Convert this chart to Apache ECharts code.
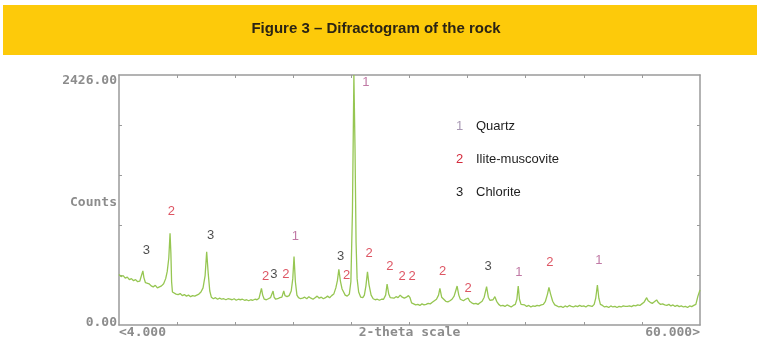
<!DOCTYPE html>
<html>
<head>
<meta charset="utf-8">
<script src="https://cdn.jsdelivr.net/npm/echarts@6/dist/echarts.min.js"></script>
<style>
html,body{margin:0;padding:0;background:#fff;}
#c{width:764px;height:351px;}
</style>
</head>
<body>
<div id="c"></div>
<script>
// ---- data ----
const twoTheta = [
 4.0,4.2,4.4,4.6,4.8,5.0,5.2,5.4,5.6,5.8,6.0,6.15,6.3,6.4,6.55,6.7,6.9,7.1,7.3,7.5,7.7,7.9,8.1,8.3,8.5,8.65,8.8,8.92,9.0,9.07,9.15,9.3,9.5,9.7,9.9,
 10.1,10.3,10.5,10.7,10.9,11.1,11.3,11.5,11.7,11.9,12.1,12.3,12.45,12.6,12.75,12.9,13.1,13.3,13.5,13.7,13.9,14.1,14.3,14.5,14.7,14.9,
 15.1,15.3,15.5,15.7,15.9,16.1,16.3,16.5,16.7,16.9,17.1,17.3,17.5,17.73,17.85,18.0,18.2,18.4,18.6,18.85,18.95,19.1,19.3,19.5,19.7,19.88,
 20.0,20.2,20.4,20.6,20.75,20.87,21.0,21.15,21.3,21.5,21.7,21.9,22.1,22.3,22.5,22.7,22.9,23.1,23.3,23.5,23.7,23.9,24.1,24.3,24.5,24.7,24.9,
 25.05,25.19,25.35,25.5,25.65,25.8,26.0,26.2,26.35,26.5,26.64,26.75,26.85,26.95,27.1,27.3,27.5,27.65,27.8,27.95,28.1,28.3,28.5,28.7,28.9,
 29.1,29.3,29.5,29.7,29.84,30.0,30.15,30.3,30.5,30.7,30.9,31.1,31.3,31.5,31.7,31.9,32.05,32.2,32.4,32.6,32.8,33.0,33.2,33.4,33.6,33.8,
 34.0,34.2,34.4,34.6,34.8,34.93,35.1,35.3,35.5,35.7,35.9,36.1,36.3,36.45,36.59,36.75,36.9,37.05,37.2,37.4,37.55,37.66,37.8,
 38.0,38.2,38.4,38.6,38.8,39.0,39.2,39.43,39.6,39.75,39.9,40.05,40.23,40.4,40.6,40.8,41.0,41.2,41.4,41.6,41.8,42.0,42.2,42.35,42.48,42.6,42.75,42.9,
 43.1,43.3,43.5,43.7,43.9,44.1,44.3,44.5,44.7,44.9,45.1,45.3,45.44,45.6,45.8,46.0,46.2,46.4,46.6,46.8,47.0,47.2,47.4,47.6,47.8,
 48.0,48.2,48.4,48.6,48.8,49.0,49.2,49.4,49.6,49.8,49.95,50.11,50.25,50.4,50.6,50.8,51.0,51.2,51.4,51.6,51.8,52.0,52.2,52.4,52.6,52.8,
 53.0,53.2,53.4,53.6,53.8,54.0,54.2,54.4,54.6,54.86,55.0,55.2,55.4,55.6,55.82,56.0,56.2,56.4,56.6,56.8,57.0,57.2,57.4,57.6,57.8,
 58.0,58.2,58.4,58.6,58.8,59.0,59.2,59.4,59.6,59.8,60.0
];
const counts = [
 490,470,480,455,465,440,450,430,440,420,425,440,525,460,410,395,400,380,370,385,360,370,380,400,450,520,650,890,700,420,320,310,300,295,305,
 285,295,280,290,275,285,280,290,300,320,360,480,710,500,330,270,255,265,250,260,250,255,245,255,250,245,
 255,240,250,245,250,240,245,235,245,240,250,245,260,355,290,250,245,255,265,330,270,250,255,265,270,330,
 285,275,285,330,450,665,420,290,265,255,260,270,255,275,260,250,265,280,260,270,255,265,280,265,285,300,360,
 430,540,420,350,320,290,280,300,420,1100,2426,1700,800,450,320,270,265,290,380,517,390,290,255,245,250,
 240,250,250,290,398,300,265,270,260,275,265,290,270,260,270,285,265,215,205,195,200,190,205,195,200,210,
 205,220,235,250,290,356,270,250,230,225,235,250,280,330,378,290,250,240,235,250,245,260,230,
 215,205,210,200,215,230,270,372,270,240,230,245,275,230,200,185,190,180,195,185,175,190,200,250,378,250,200,185,
 195,180,190,175,185,180,190,185,195,200,230,300,366,300,230,195,185,175,180,170,185,175,190,180,175,
 185,178,190,180,185,175,190,185,180,200,260,388,260,200,190,175,180,170,185,175,180,170,180,175,185,180,
 180,185,178,190,185,195,190,205,220,265,235,220,210,225,243,215,200,205,195,190,200,185,195,180,190,
 178,185,175,180,170,185,178,190,200,280,340
];
// peak annotations: 2-theta, counts (label anchor), mineral id
const peakTheta = [6.64, 9.05, 12.84, 18.12, 18.92, 20.08, 21.01, 25.35, 25.93, 27.79, 28.11, 30.10, 31.29, 32.25, 35.19, 37.66, 39.58, 42.54, 45.53, 50.26];
const peakCounts = [721, 1099, 867, 475, 495, 495, 864, 663, 485, 2351, 696, 566, 475, 475, 524, 356, 566, 508, 608, 631];
const peakMineral = [3, 2, 3, 2, 3, 2, 1, 3, 2, 1, 2, 2, 2, 2, 2, 2, 3, 1, 2, 1];
const mineralIds = [1, 2, 3];
const mineralNames = ["Quartz", "Ilite-muscovite", "Chlorite"];
const xTicks = [9.6, 15.2, 20.8, 26.4, 32.0, 37.6, 43.2, 48.8, 54.4];
const xLabelValues = [4, 32, 60];
const xLabelTexts = ["<4.000", "2-theta scale", "60.000>"];
const yTicks = [485.2, 970.4, 1455.6, 1940.8];
const yLabelValues = [0, 1213, 2426];
const yLabelTexts = ["0.00", "Counts", "2426.00"];
const xMin = 4, xMax = 60, yMin = 0, yMax = 2426;
const titleText = "Figure 3 \u2013 Difractogram of the rock";

// ---- styles ----
const peakColors = {1: "#b0578e", 2: "#d42a3c", 3: "#1e1e1e"};
const legendNumColors = {1: "#a898b4", 2: "#d42a3c", 3: "#1e1e1e"};
const frame = "#9a9a9a";
const monoLabel = {fontFamily: "DejaVu Sans Mono", fontSize: 13, fontWeight: "bold", color: "#8c8c8c"};
const yRich = {
  lo: {padding: [0, 0, 4, 0]},
  mid: {padding: [6, 0, 0, 0]},
  hi: {padding: [12, 0, 0, 0]}
};
const yRichKeys = ["lo", "mid", "hi"];

const chart = echarts.init(document.getElementById("c"), null, {renderer: "canvas"});

const lineData = twoTheta.map((t, i) => [t, counts[i]]);
const peakData = peakTheta.map((t, i) => ({
  value: [t, peakCounts[i]],
  label: {formatter: String(peakMineral[i]), color: peakColors[peakMineral[i]]}
}));

function xFmt(v) { const k = xLabelValues.findIndex(a => Math.abs(a - v) < 1e-6); return k >= 0 ? xLabelTexts[k] : ""; }
function yFmt(v) {
  const k = yLabelValues.findIndex(a => Math.abs(a - v) < 1e-6);
  return k >= 0 ? "{" + yRichKeys[k] + "|" + yLabelTexts[k] + "}" : "";
}

const legendGraphics = [];
mineralIds.forEach((id, i) => {
  legendGraphics.push({type: "text", left: 456, top: 120 + i * 33, style: {text: String(id), fill: legendNumColors[id], font: "13px 'Liberation Sans'"}});
  legendGraphics.push({type: "text", left: 476, top: 120 + i * 33, style: {text: mineralNames[i], fill: "#1e1e1e", font: "13px 'Liberation Sans'"}});
});

chart.setOption({
  animation: false,
  backgroundColor: "#ffffff",
  grid: {left: 119, right: 64, top: 75, bottom: 26, containLabel: false},
  graphic: [
    {type: "rect", left: 3, top: 5, shape: {width: 754, height: 50}, style: {fill: "#fdca0a"}, z: -1},
    {type: "text", x: 376, y: 29, style: {text: titleText, fill: "#2b2414", font: "bold 15px 'Liberation Sans'", textAlign: "center", textVerticalAlign: "middle"}},
    ...legendGraphics
  ],
  xAxis: [{
    type: "value", min: xMin, max: xMax, position: "bottom",
    axisLine: {show: true, onZero: false, lineStyle: {color: frame, width: 1.5}},
    axisTick: {show: true, inside: true, length: 3, customValues: xTicks, lineStyle: {color: frame}},
    axisLabel: Object.assign({show: true, customValues: xLabelValues, formatter: xFmt, margin: 1, align: "center", alignMinLabel: "left", alignMaxLabel: "right", showMinLabel: true, showMaxLabel: true}, monoLabel),
    splitLine: {show: false}
  }, {
    type: "value", min: xMin, max: xMax, position: "top",
    axisLine: {show: true, onZero: false, lineStyle: {color: frame, width: 1.5}},
    axisTick: {show: true, inside: true, length: 3, customValues: xTicks, lineStyle: {color: frame}},
    axisLabel: {show: false}, splitLine: {show: false}
  }],
  yAxis: [{
    type: "value", min: yMin, max: yMax, position: "left",
    axisLine: {show: true, onZero: false, lineStyle: {color: frame, width: 1.5}},
    axisTick: {show: true, inside: true, length: 3, customValues: yTicks, lineStyle: {color: frame}},
    axisLabel: Object.assign({show: true, customValues: yLabelValues, formatter: yFmt, rich: yRich, margin: 2, showMinLabel: true, showMaxLabel: true}, monoLabel),
    splitLine: {show: false}
  }, {
    type: "value", min: yMin, max: yMax, position: "right",
    axisLine: {show: true, onZero: false, lineStyle: {color: frame, width: 1.5}},
    axisTick: {show: true, inside: true, length: 3, customValues: yTicks, lineStyle: {color: frame}},
    axisLabel: {show: false}, splitLine: {show: false}
  }],
  series: [{
    type: "line", data: lineData, showSymbol: false, symbol: "none", clip: true,
    lineStyle: {color: "#96c652", width: 1.3}
  }, {
    type: "scatter", data: peakData, symbolSize: 1, itemStyle: {color: "rgba(0,0,0,0)"},
    label: {show: true, position: "inside", fontFamily: "Liberation Sans", fontSize: 13},
    clip: false
  }]
});
</script>
</body>
</html>
